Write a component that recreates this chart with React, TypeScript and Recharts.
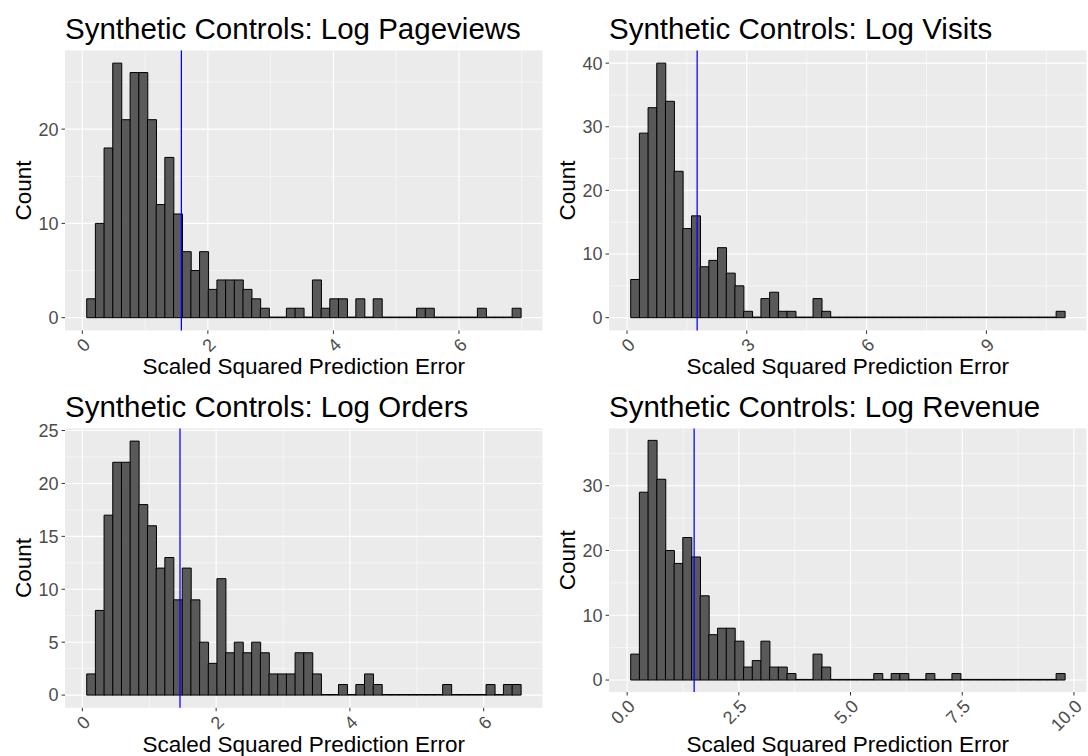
import { Bar, BarChart, CartesianGrid, Label, ReferenceLine, XAxis, YAxis } from "recharts";

// counts per bin (50 bins each)
const pageviewCounts = [
  2, 10, 18, 27, 21, 26, 26, 21, 12, 17, 11, 7, 5, 7, 3, 4, 4, 4, 3, 2, 1, 0, 0, 1, 1,
  0, 4, 1, 2, 2, 0, 2, 0, 2, 0, 0, 0, 0, 1, 1, 0, 0, 0, 0, 0, 1, 0, 0, 0, 1,
];
const visitCounts = [
  6, 29, 33, 40, 34, 23, 14, 16, 8, 9, 11, 7, 5, 1, 0, 3, 4, 1, 1, 0, 0, 3, 1, 0, 0,
  0, 0, 0, 0, 0, 0, 0, 0, 0, 0, 0, 0, 0, 0, 0, 0, 0, 0, 0, 0, 0, 0, 0, 0, 1,
];
const orderCounts = [
  2, 8, 17, 22, 22, 24, 18, 16, 12, 13, 9, 12, 9, 5, 3, 11, 4, 5, 4, 5, 4, 2, 2, 2, 4,
  4, 2, 0, 0, 1, 0, 1, 2, 1, 0, 0, 0, 0, 0, 0, 0, 1, 0, 0, 0, 0, 1, 0, 1, 1,
];
const revenueCounts = [
  4, 29, 37, 31, 20, 18, 22, 19, 13, 7, 8, 8, 6, 2, 3, 6, 2, 2, 1, 0, 0, 4, 2, 0, 0,
  0, 0, 0, 1, 0, 1, 1, 0, 0, 1, 0, 0, 1, 0, 0, 0, 0, 0, 0, 0, 0, 0, 0, 0, 1,
];

// bin layout (left edge of first bin, bin width) and the blue cutoff line
const pageviewBins = { start: 0.07, width: 0.1383, cutoff: 1.578 };
const visitBins = { start: 0.093, width: 0.2174, cutoff: 1.757 };
const orderBins = { start: 0.065, width: 0.1298, cutoff: 1.46 };
const revenueBins = { start: 0.08, width: 0.1943, cutoff: 1.5 };

// axis breaks
const pageviewXTicks = [0, 2, 4, 6];
const pageviewXMinor = [1, 3, 5, 7];
const pageviewYTicks = [0, 10, 20];
const pageviewYMinor = [5, 15, 25];

const visitXTicks = [0, 3, 6, 9];
const visitXMinor = [1.5, 4.5, 7.5, 10.5];
const visitYTicks = [0, 10, 20, 30, 40];
const visitYMinor = [5, 15, 25, 35];

const orderXTicks = [0, 2, 4, 6];
const orderXMinor = [1, 3, 5];
const orderYTicks = [0, 5, 10, 15, 20, 25];
const orderYMinor = [2.5, 7.5, 12.5, 17.5, 22.5];

const revenueXTicks = [0, 2.5, 5, 7.5, 10];
const revenueXMinor = [1.25, 3.75, 6.25, 8.75];
const revenueYTicks = [0, 10, 20, 30];
const revenueYMinor = [5, 15, 25, 35];

const CELL_W = 544;
const CELL_H = 378;

type TickProps = { x?: number; y?: number; payload?: { value: number }; digits: number };

function RotatedTick({ x = 0, y = 0, payload, digits }: TickProps) {
  return (
    <text
      x={x}
      y={y}
      dy="0.71em"
      textAnchor="end"
      fill="#4D4D4D"
      fontSize={18}
      transform={`rotate(-45 ${x} ${y})`}
    >
      {payload ? Number(payload.value).toFixed(digits) : ""}
    </text>
  );
}

type PanelProps = {
  title: string;
  counts: number[];
  bins: { start: number; width: number; cutoff: number };
  xTicks: number[];
  xMinor: number[];
  yTicks: number[];
  yMinor: number[];
  digits: number;
  axisHeight: number;
  left: number;
  top: number;
};

function HistogramPanel(p: PanelProps) {
  const data = p.counts.map((count, i) => ({
    x: p.bins.start + (i + 0.5) * p.bins.width,
    count,
  }));
  const span = p.counts.length * p.bins.width;
  const xDomain = [p.bins.start - span * 0.05, p.bins.start + span * 1.05];
  const yMax = Math.max(...p.counts);
  const yDomain = [-yMax * 0.05, yMax * 1.05];

  return (
    <div style={{ position: "absolute", left: p.left, top: p.top, width: CELL_W, height: CELL_H }}>
      <div
        style={{
          position: "absolute",
          left: 65,
          top: 14,
          fontSize: 29.5,
          lineHeight: 1,
          whiteSpace: "nowrap",
          color: "#000",
        }}
      >
        {p.title}
      </div>
      <BarChart
        width={CELL_W}
        height={CELL_H}
        data={data}
        margin={{ top: 50.4, right: 1.5, bottom: 0, left: 0 }}
        barCategoryGap={0}
        barGap={0}
      >
        <CartesianGrid
          fill="#EBEBEB"
          stroke="#FFFFFF"
          strokeWidth={0.55}
          horizontalValues={p.yMinor}
          verticalValues={p.xMinor}
        />
        <CartesianGrid
          stroke="#FFFFFF"
          strokeWidth={1.1}
          horizontalValues={p.yTicks}
          verticalValues={p.xTicks}
        />
        <XAxis
          type="number"
          dataKey="x"
          domain={xDomain}
          allowDataOverflow
          ticks={p.xTicks}
          interval={0}
          height={p.axisHeight}
          axisLine={false}
          tickSize={3.5}
          tickMargin={3}
          tickLine={{ stroke: "#333333" }}
          tick={(props: any) => <RotatedTick {...props} digits={p.digits} />}
        >
          <Label
            value="Scaled Squared Prediction Error"
            position="insideBottom"
            offset={4}
            fill="#000"
            fontSize={22.5}
          />
        </XAxis>
        <YAxis
          type="number"
          domain={yDomain}
          allowDataOverflow
          ticks={p.yTicks}
          interval={0}
          width={65}
          axisLine={false}
          tickSize={3.5}
          tickMargin={3}
          tickLine={{ stroke: "#333333" }}
          tick={{ fill: "#4D4D4D", fontSize: 18 }}
        >
          <Label
            value="Count"
            angle={-90}
            position="insideLeft"
            offset={23.5}
            fill="#000"
            fontSize={22.5}
            style={{ textAnchor: "middle" }}
          />
        </YAxis>
        <Bar
          dataKey="count"
          fill="#595959"
          stroke="#000000"
          strokeWidth={1}
          minPointSize={0.6}
          isAnimationActive={false}
        />
        <ReferenceLine x={p.bins.cutoff} stroke="#0000FF" strokeWidth={1.25} />
      </BarChart>
    </div>
  );
}

export default function App() {
  return (
    <div
      style={{
        position: "absolute",
        left: 0,
        top: 0,
        width: 1088,
        height: 756,
        background: "#FFFFFF",
        fontFamily: '"Liberation Sans", Arial, sans-serif',
      }}
    >
      <HistogramPanel
        title="Synthetic Controls: Log Pageviews"
        counts={pageviewCounts}
        bins={pageviewBins}
        xTicks={pageviewXTicks}
        xMinor={pageviewXMinor}
        yTicks={pageviewYTicks}
        yMinor={pageviewYMinor}
        digits={0}
        axisHeight={47.6}
        left={0}
        top={0}
      />
      <HistogramPanel
        title="Synthetic Controls: Log Visits"
        counts={visitCounts}
        bins={visitBins}
        xTicks={visitXTicks}
        xMinor={visitXMinor}
        yTicks={visitYTicks}
        yMinor={visitYMinor}
        digits={0}
        axisHeight={47.6}
        left={CELL_W}
        top={0}
      />
      <HistogramPanel
        title="Synthetic Controls: Log Orders"
        counts={orderCounts}
        bins={orderBins}
        xTicks={orderXTicks}
        xMinor={orderXMinor}
        yTicks={orderYTicks}
        yMinor={orderYMinor}
        digits={0}
        axisHeight={48.2}
        left={0}
        top={CELL_H}
      />
      <HistogramPanel
        title="Synthetic Controls: Log Revenue"
        counts={revenueCounts}
        bins={revenueBins}
        xTicks={revenueXTicks}
        xMinor={revenueXMinor}
        yTicks={revenueYTicks}
        yMinor={revenueYMinor}
        digits={1}
        axisHeight={64}
        left={CELL_W}
        top={CELL_H}
      />
    </div>
  );
}
